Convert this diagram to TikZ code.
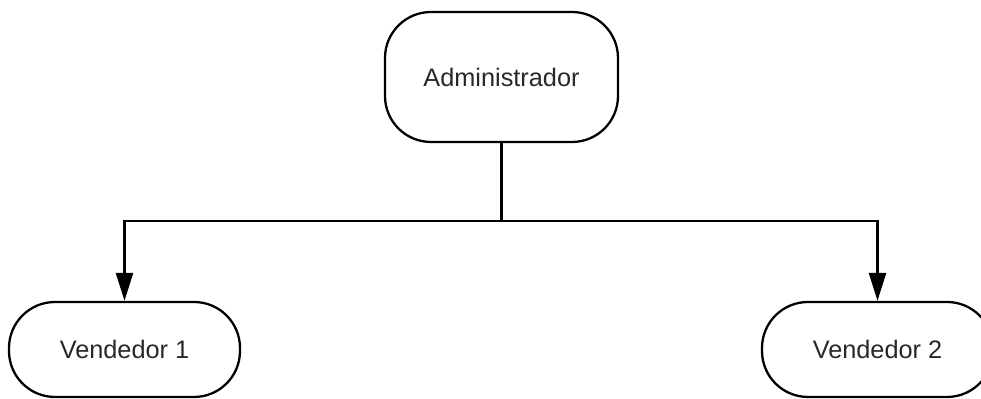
\documentclass[tikz,border=0pt]{standalone}
\usepackage{fontspec}
\setmainfont{Liberation Sans}
\usetikzlibrary{arrows.meta}
\usetikzlibrary{positioning}
\definecolor{labelgray}{RGB}{40,40,40}

\begin{document}
\begin{tikzpicture}[
    role/.style={draw, line width=1.3pt, rounded corners=0.92cm, align=center,
                 text=labelgray, font=\fontsize{14.4}{17}\selectfont},
    link/.style={line width=1.4pt},
    linkarrow/.style={link, -{Triangle[length=0.56cm, width=0.34cm]}}
  ]
    \path[use as bounding box, clip] (0,0) rectangle (19.62,7.98);

    \node[role, minimum width=4.66cm, minimum height=2.6cm] (admin) at (10.03,6.44) {Administrador};
    \node[role, minimum width=4.62cm, minimum height=1.9cm] (vend1) at (2.49,0.99)  {Vendedor 1};
    \node[role, minimum width=4.62cm, minimum height=1.9cm] (vend2) at (17.55,0.99) {Vendedor 2};

    \coordinate (split) at (10.03,3.56);

    \draw[link] (admin.south) -- (split);
    \draw[linkarrow] (split) -| (vend1.north);
    \draw[linkarrow] (split) -| (vend2.north);
  \end{tikzpicture}
\end{document}
